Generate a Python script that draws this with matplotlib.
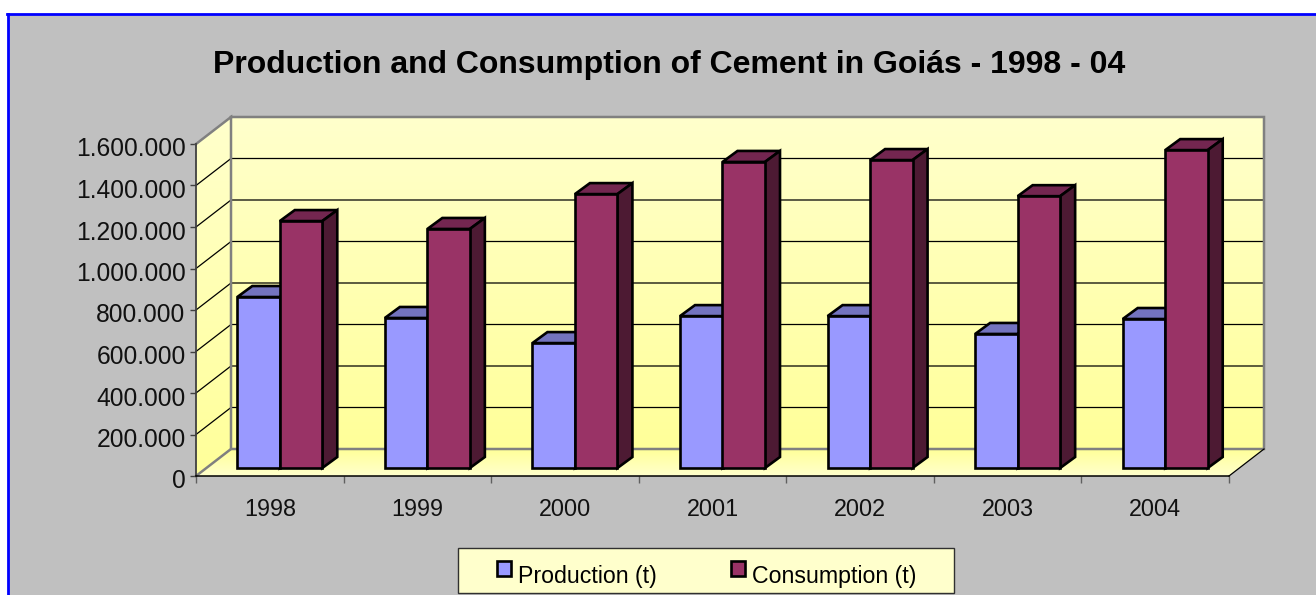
import numpy as np
import matplotlib
matplotlib.use("Agg")
import matplotlib.pyplot as plt
from matplotlib.patches import Patch, Polygon, Rectangle
from matplotlib.ticker import FuncFormatter
from matplotlib.transforms import ScaledTranslation

years = ["1998", "1999", "2000", "2001", "2002", "2003", "2004"]
production = [824000, 723000, 602000, 732000, 732000, 646000, 718000]
consumption = [1190000, 1152000, 1320000, 1475000, 1484000, 1310000, 1532000]
y_ticks = [0, 200000, 400000, 600000, 800000, 1000000, 1200000, 1400000, 1600000]

W, H = 1316, 595
LEFT, RIGHT, TOP, BOTTOM = 196, 1229, 144, 476
DEPTH_X, DEPTH_Y = 35, 27

plt.rcParams["font.family"] = ["Liberation Sans", "DejaVu Sans"]

fig = plt.figure(figsize=(W / 100, H / 100), dpi=100, facecolor="white")

# grey chart area with the blue border on top and left only
fig.add_artist(Rectangle((8 / W, 0), 1, 1 - 14 / H, transform=fig.transFigure,
                         facecolor="#C0C0C0", edgecolor="none", zorder=-2))
fig.add_artist(plt.Line2D([8 / W, 8 / W], [0, 1 - 14 / H], color="#0000FF", lw=2, zorder=-1))
fig.add_artist(plt.Line2D([7 / W, 1], [1 - 14 / H, 1 - 14 / H], color="#0000FF", lw=2, zorder=-1))

ax = fig.add_axes([LEFT / W, 1 - BOTTOM / H, (RIGHT - LEFT) / W, (BOTTOM - TOP) / H])
ax.set_xlim(0, len(years))
ax.set_ylim(0, 1600000)
ax.patch.set_alpha(0)

# pixel sizes expressed in data units
px_x = len(years) / (RIGHT - LEFT)
px_y = 1600000 / (BOTTOM - TOP)
dx, dy = DEPTH_X * px_x, DEPTH_Y * px_y
ymax = 1600000
n = len(years)

LIGHT = np.array([1.0, 1.0, 0.8])
DEEP = np.array([1.0, 1.0, 0.6])


def gradient(poly_pts, extent, top_col, bottom_col, z):
    ramp = np.linspace(0, 1, 256)[:, None, None]
    img = top_col * (1 - ramp) + bottom_col * ramp
    im = ax.imshow(img, extent=extent, aspect="auto", origin="upper", zorder=z)
    poly = Polygon(poly_pts, closed=True, transform=ax.transData, facecolor="none", edgecolor="none")
    ax.add_patch(poly)
    poly.set_clip_on(False)
    im.set_clip_path(poly)
    im.set_clip_box(fig.bbox)


# back wall, side wall, floor
gradient([(dx, dy), (n + dx, dy), (n + dx, ymax + dy), (dx, ymax + dy)],
         (dx, n + dx, dy, ymax + dy), LIGHT, DEEP, 1)
gradient([(0, 0), (dx, dy), (dx, ymax + dy), (0, ymax)],
         (0, dx, 0, ymax + dy), LIGHT, DEEP, 1)
gradient([(0, 0), (n, 0), (n + dx, dy), (dx, dy)],
         (0, n + dx, 0, dy), DEEP, LIGHT, 1)
ax.set_xlim(0, n)
ax.set_ylim(0, ymax)

# gridlines across back and side walls
for v in y_ticks[1:-1]:
    ax.plot([0, dx, n + dx], [v, v + dy, v + dy], color="black", lw=0.9, zorder=2, clip_on=False)

# grey wall frame
frame = "#808080"
ax.plot([0, dx, dx, n + dx, n + dx, dx], [ymax, ymax + dy, dy, dy, ymax + dy, ymax + dy],
        color=frame, lw=1.8, zorder=2, clip_on=False, solid_joinstyle="miter")
ax.plot([0, dx], [0, dy], color=frame, lw=1.8, zorder=2, clip_on=False)
ax.plot([n, n + dx], [0, dy], color="black", lw=0.9, zorder=2, clip_on=False)

# bars
bar_w = 42.5 * px_x
bar_dx, bar_dy = 15 * px_x, 11 * px_y
base = 8 * px_y
shift = 10 * px_x
x_pos = np.arange(n) + 0.5 + shift
EDGE = 1.9


def bar_3d(x, vals, front, top, side):
    for xi, v in zip(x, vals):
        yt = base + v
        ax.add_patch(Polygon([(xi, yt), (xi + bar_w, yt), (xi + bar_w + bar_dx, yt + bar_dy), (xi + bar_dx, yt + bar_dy)],
                             facecolor=top, edgecolor="black", lw=EDGE, zorder=4, clip_on=False))
        ax.add_patch(Polygon([(xi + bar_w, base), (xi + bar_w + bar_dx, base + bar_dy),
                              (xi + bar_w + bar_dx, yt + bar_dy), (xi + bar_w, yt)],
                             facecolor=side, edgecolor="black", lw=EDGE, zorder=4, clip_on=False))
    ax.bar(x, vals, width=bar_w, bottom=base, align="edge", color=front, edgecolor="black", lw=EDGE,
           zorder=5, clip_on=False)


bar_3d(x_pos - bar_w, production, "#9999FF", "#7373BF", "#4D4D80")
bar_3d(x_pos, consumption, "#993366", "#732650", "#4D1A33")

# axes
for s in ["top", "right"]:
    ax.spines[s].set_visible(False)
ax.spines["left"].set_color("#404040")
ax.spines["left"].set_linewidth(1.3)
ax.spines["bottom"].set_color("black")
ax.spines["bottom"].set_linewidth(1.1)
for s in ax.spines.values():
    s.set_zorder(3)

ax.set_yticks(y_ticks)
ax.yaxis.set_major_formatter(FuncFormatter(lambda v, _: f"{int(v):,}".replace(",", ".")))
ax.set_xticks(np.arange(n + 1))
ax.set_xticklabels([])
ax.set_xticks(np.arange(n) + 0.5, minor=True)
ax.set_xticklabels(years, minor=True)
ax.tick_params(axis="y", length=4, width=1, color="#404040", labelsize=17.7, pad=3.5, labelcolor="#111111")
ax.tick_params(axis="x", which="major", length=5, width=1, color="#606060")
ax.tick_params(axis="x", which="minor", length=0, labelsize=16.8, pad=16, labelcolor="#111111")

# labels sit a little below their ticks in the reference
nudge = ScaledTranslation(0, -3 / 100, fig.dpi_scale_trans)
for lab in ax.get_yticklabels():
    lab.set_transform(lab.get_transform() + nudge)

fig.text(669 / W, 1 - 65 / H, "Production and Consumption of Cement in Goiás - 1998 - 04",
         ha="center", va="center", fontsize=23, fontweight="bold", color="black")

fig.add_artist(Rectangle((458 / W, 1 - 593 / H), 496 / W, 45 / H, transform=fig.transFigure,
                         facecolor="#FFFFCC", edgecolor="#303030", lw=1, zorder=-1))
handles = [Patch(facecolor="#9999FF", edgecolor="black", lw=1.9, label="Production (t)"),
           Patch(facecolor="#993366", edgecolor="black", lw=1.9, label="Consumption (t)")]
leg = fig.legend(handles=handles, ncol=2, loc="center", bbox_to_anchor=(707 / W, 1 - 576 / H),
                 fontsize=16.7, frameon=False, handlelength=0.6, handleheight=0.6, handletextpad=0.3,
                 columnspacing=3.2, borderpad=0.2, borderaxespad=0)
for h in leg.legend_handles:
    h.set_y(h.get_y() + 4)

fig.savefig("out.png", dpi=100)
